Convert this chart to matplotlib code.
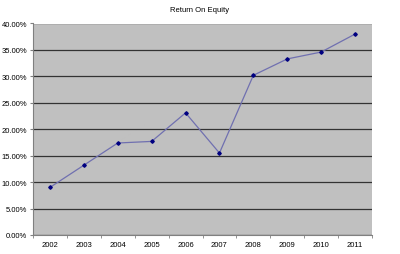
import numpy as np
import matplotlib.pyplot as plt
from matplotlib.ticker import FuncFormatter, MultipleLocator

plt.rcParams['font.family'] = ['Liberation Sans', 'DejaVu Sans']

years = ['2002', '2003', '2004', '2005', '2006', '2007', '2008', '2009', '2010', '2011']
roe = [9.0, 13.2, 17.4, 17.7, 23.1, 15.5, 30.2, 33.3, 34.6, 38.0]

fig = plt.figure(figsize=(4, 2.55), dpi=100)
ax = fig.add_axes([33 / 400, 1 - 236 / 255, (372 - 33) / 400, (236 - 24.5) / 255])
ax.set_facecolor('#C0C0C0')

x = np.arange(len(years))
ax.plot(x, roe, color='#7070B0', lw=0.9, marker='D', ms=1.8,
        mfc='#000080', mec='#000080', zorder=3)

ax.set_xlim(-0.5, len(years) - 0.5)
ax.set_ylim(0, 40)
ax.yaxis.set_major_locator(MultipleLocator(5))
ax.yaxis.set_major_formatter(FuncFormatter(lambda v, p: f'{v:.2f}%'))
ax.grid(axis='y', color='#333333', lw=0.9)
ax.set_axisbelow(True)

ax.set_xticks(x)
ax.set_xticklabels(years)
ax.set_xticks(np.arange(-0.5, len(years)), minor=True)
ax.tick_params(axis='x', which='major', length=0, labelsize=5.5, pad=4)
ax.tick_params(axis='x', which='minor', length=2, color='#808080')
ax.tick_params(axis='y', length=2, labelsize=5.5, color='#808080', pad=2)

for s in ['top', 'right']:
    ax.spines[s].set_visible(False)
for s in ['left', 'bottom']:
    ax.spines[s].set_color('#808080')
    ax.spines[s].set_linewidth(0.8)

fig.text(0.5, 1 - 10 / 255, 'Return On Equity', ha='center', va='center', fontsize=5.5)

fig.savefig('out.png', dpi=100)
